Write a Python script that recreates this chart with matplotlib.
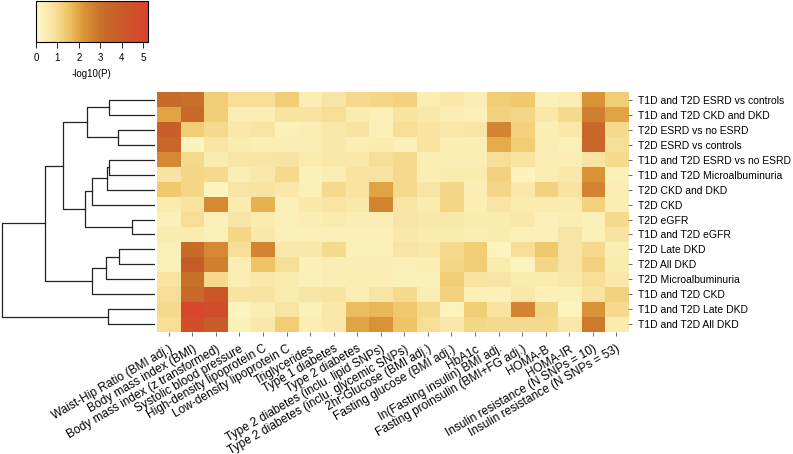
import numpy as np
import matplotlib
matplotlib.use("Agg")
import matplotlib.pyplot as plt
from matplotlib.colors import LinearSegmentedColormap

plt.rcParams['font.family'] = ['Liberation Sans', 'DejaVu Sans']

traits = ["Waist-Hip Ratio (BMI adj.)", "Body mass index (BMI)",
          "Body mass index (z transformed)", "Systolic blood pressure",
          "High-density lipoprotein C", "Low-density lipoprotein C",
          "Triglycerides", "Type 1 diabetes", "Type 2 diabetes",
          "Type 2 diabetes (inclu. lipid SNPs)",
          "Type 2 diabetes (inclu. glycemic SNPs)",
          "2hr-Glucose (BMI adj.)", "Fasting glucose (BMI adj.)", "HbA1c",
          "ln(Fasting insulin) BMI adj.", "Fasting proinsulin (BMI+FG adj.)",
          "HOMA-B", "HOMA-IR", "Insulin resistance (N SNPs = 10)",
          "Insulin resistance (N SNPs = 53)"]

phenotypes = ["T1D and T2D ESRD vs controls", "T1D and T2D CKD and DKD",
              "T2D ESRD vs no ESRD", "T2D ESRD vs controls",
              "T1D and T2D ESRD vs no ESRD", "T1D and T2D Microalbuminuria",
              "T2D CKD and DKD", "T2D CKD", "T2D eGFR", "T1D and T2D eGFR",
              "T2D Late DKD", "T2D All DKD", "T2D Microalbuminuria",
              "T1D and T2D CKD", "T1D and T2D Late DKD", "T1D and T2D All DKD"]

# -log10(P), rows = phenotypes, cols = traits
logp = np.array([
    [3.2, 3.0, 1.3, 0.9, 0.9, 1.3, 0.4, 0.7, 1.0, 1.1, 1.2, 0.4, 0.6, 0.4, 1.3, 1.4, 0.3, 0.4, 2.3, 1.3],
    [2.0, 3.3, 1.3, 0.4, 0.4, 0.8, 0.8, 0.9, 0.5, 0.3, 0.8, 0.6, 0.4, 0.3, 1.2, 1.1, 0.6, 1.0, 2.7, 2.0],
    [3.8, 1.3, 1.0, 0.6, 0.7, 0.3, 0.4, 0.6, 0.8, 0.3, 0.9, 0.8, 0.6, 0.7, 2.6, 1.2, 0.4, 0.6, 3.4, 1.0],
    [3.4, 0.2, 0.7, 0.5, 0.4, 0.4, 0.4, 0.6, 0.4, 0.5, 0.3, 0.8, 0.4, 0.4, 1.9, 1.3, 0.4, 0.3, 3.4, 0.9],
    [2.5, 1.0, 0.5, 0.7, 0.7, 0.8, 0.5, 0.6, 0.6, 0.9, 1.0, 0.4, 0.4, 0.4, 0.9, 0.8, 0.4, 0.4, 0.8, 1.0],
    [0.7, 1.1, 1.0, 0.4, 0.6, 1.0, 0.3, 0.4, 0.8, 0.8, 1.0, 0.4, 0.5, 0.5, 1.2, 0.2, 0.4, 0.6, 2.3, 0.3],
    [1.4, 1.1, 0.2, 0.7, 0.8, 0.6, 0.3, 1.0, 0.8, 2.0, 1.0, 0.7, 1.1, 0.4, 1.1, 0.6, 1.2, 0.8, 2.6, 0.4],
    [0.5, 0.8, 2.5, 0.5, 1.8, 0.3, 0.6, 0.7, 0.6, 2.6, 0.7, 0.5, 1.1, 0.4, 0.7, 0.5, 0.5, 0.5, 1.2, 0.4],
    [0.3, 0.9, 0.3, 0.7, 0.5, 0.3, 0.4, 0.5, 0.4, 0.4, 0.7, 0.6, 0.6, 0.5, 0.5, 0.6, 0.3, 0.4, 0.3, 1.0],
    [0.5, 0.5, 0.3, 1.1, 0.6, 0.3, 0.3, 0.3, 0.3, 0.3, 0.6, 0.5, 0.5, 0.4, 0.5, 0.3, 0.3, 0.7, 0.3, 0.8],
    [0.3, 3.2, 2.5, 0.9, 2.6, 0.6, 0.6, 1.0, 0.3, 0.3, 0.7, 0.6, 1.0, 1.3, 0.2, 0.9, 1.4, 0.7, 1.0, 0.4],
    [0.3, 4.0, 2.7, 0.4, 1.5, 0.9, 0.3, 0.4, 0.4, 0.4, 0.3, 0.4, 1.1, 1.3, 0.5, 0.2, 1.1, 0.7, 1.2, 0.5],
    [0.8, 3.0, 1.0, 0.4, 0.6, 0.5, 0.3, 0.4, 0.4, 0.4, 0.3, 0.3, 1.3, 0.8, 0.7, 0.5, 0.5, 0.6, 0.9, 0.6],
    [0.9, 3.3, 4.2, 0.8, 0.8, 0.5, 0.7, 0.8, 0.4, 0.7, 1.0, 0.4, 1.2, 0.3, 0.3, 0.6, 0.3, 0.3, 0.8, 1.2],
    [1.0, 5.0, 4.7, 0.2, 0.4, 0.7, 0.3, 0.6, 1.6, 1.7, 1.4, 1.0, 0.2, 1.3, 0.8, 2.6, 1.1, 0.2, 2.3, 1.0],
    [0.9, 4.6, 3.9, 0.3, 0.6, 1.3, 0.4, 0.6, 2.0, 2.3, 1.5, 0.9, 0.6, 1.1, 1.0, 1.0, 1.0, 0.6, 2.8, 0.5],
])

# row dendrogram: (child a, child b, height); ids >= 16 are earlier merges
merges = [(0, 1, 46), (2, 3, 37), (16, 17, 68), (4, 5, 46), (19, 6, 48),
          (20, 7, 63), (8, 9, 23), (21, 22, 70), (18, 23, 92), (10, 11, 36),
          (25, 12, 49), (26, 13, 63), (24, 27, 110), (14, 15, 47),
          (28, 29, 153)]

vmax = 5.22
cmap = LinearSegmentedColormap.from_list("p", [
    (0.0, "#FFF8C8"), (0.8 / vmax, "#F8E3A0"), (1.5 / vmax, "#EFC465"),
    (2.2 / vmax, "#DC9838"), (3.0 / vmax, "#C9702A"), (4.0 / vmax, "#C85A28"),
    (1.0, "#D9432B")])

fig = plt.figure(figsize=(7.93, 4.54), dpi=100)

ax = fig.add_axes([0.198, 0.269, 0.594, 0.528])
im = ax.imshow(logp, cmap=cmap, vmin=0, vmax=vmax, aspect='auto',
               interpolation='nearest')
for s in ax.spines.values():
    s.set_visible(False)
ax.yaxis.tick_right()
ax.set_yticks(range(len(phenotypes)))
ax.set_yticklabels(phenotypes, fontsize=7.5)
ax.set_xticks(range(len(traits)))
ax.set_xticklabels(traits, fontsize=8.6, rotation=30, ha='right',
                   rotation_mode='anchor')
ax.tick_params(length=3, width=0.6, color='#555555')
ax.tick_params(axis='y', pad=4)
ax.tick_params(axis='x', pad=5)

# dendrogram
dax = fig.add_axes([0.0, 0.269, 0.196, 0.528])
pos = {i: (float(i), 0.0) for i in range(len(phenotypes))}
nid = len(phenotypes)
for a, b, h in merges:
    ya, ha = pos[a]
    yb, hb = pos[b]
    dax.plot([ha, h, h, hb], [ya, ya, yb, yb], color='#222222', lw=0.9)
    pos[nid] = ((ya + yb) / 2, h)
    nid += 1
dax.set_xlim(155, 0)
dax.set_ylim(len(phenotypes) - 0.5, -0.5)
dax.axis('off')

# colour key
cax = fig.add_axes([0.0454, 0.9075, 0.141, 0.090])
cb = fig.colorbar(im, cax=cax, orientation='horizontal')
cb.set_ticks([0, 1, 2, 3, 4, 5])
cb.ax.tick_params(labelsize=7, length=4, width=0.6, pad=4)
cb.outline.set_linewidth(0.8)
cb.set_label('-log10(P)', fontsize=7, labelpad=4)

fig.savefig("out.png", dpi=100)
